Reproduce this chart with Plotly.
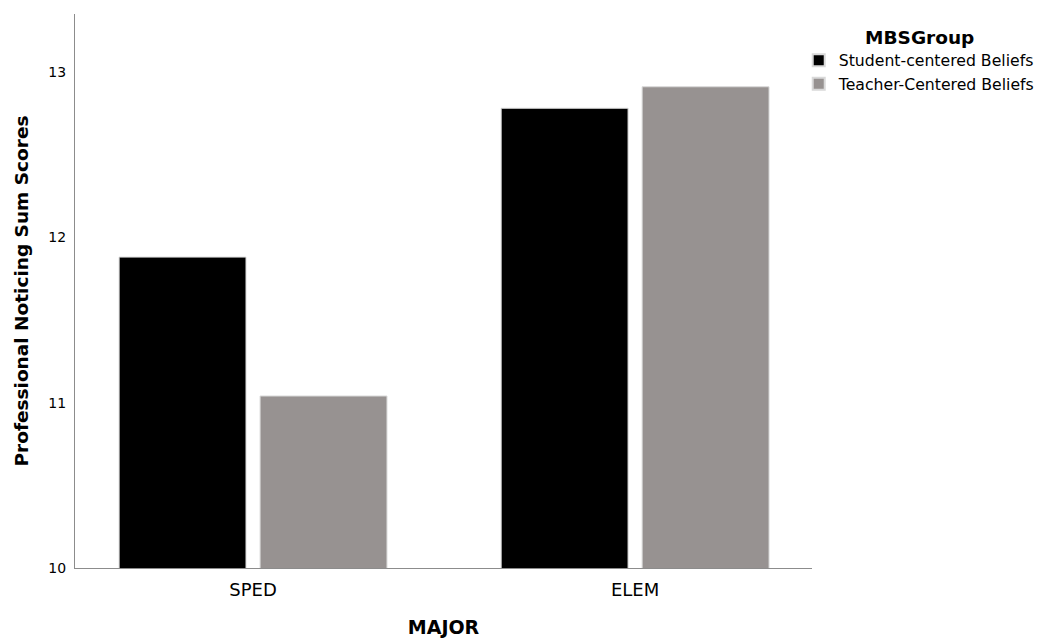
import plotly.graph_objects as go

categories = ["SPED", "ELEM"]
series_names = ["Student-centered Beliefs", "Teacher-Centered Beliefs"]
student_vals = [11.88, 12.78]
teacher_vals = [11.04, 12.91]
colors = ["#000000", "#979291"]
y_ticks = [10, 11, 12, 13]

FONT = "DejaVu Sans"

fig = go.Figure()
for name, vals, col in zip(series_names, [student_vals, teacher_vals], colors):
    fig.add_trace(go.Bar(
        x=categories, y=vals, name=name,
        marker=dict(color=col, line=dict(color="#d9d9d9", width=1)),
    ))

fig.update_layout(
    width=1044, height=641,
    margin=dict(l=67, r=240, t=6, b=81),
    paper_bgcolor="white", plot_bgcolor="white",
    barmode="group", bargap=0.262, bargroupgap=0.1,
    font=dict(family=FONT, color="#000000"),
    showlegend=True,
    legend=dict(
        x=0.982, xanchor="left", y=0.99, yanchor="top",
        title=dict(text="<b>MBSGroup</b>", side="top center", font=dict(size=18.5, family=FONT)),
        font=dict(size=15.7, family=FONT),
        itemsizing="constant", tracegroupgap=0,
        bgcolor="rgba(0,0,0,0)",
    ),
    xaxis=dict(
        range=[-0.466, 1.463],
        showline=True, linecolor="#8c8c8c", linewidth=1,
        ticks="", tickfont=dict(size=18, family=FONT), ticklabelstandoff=5,
        title=dict(text="<b>MAJOR</b>", font=dict(size=19, family=FONT), standoff=22),
        showgrid=False, zeroline=False,
    ),
    yaxis=dict(
        range=[10, 13.35],
        tickvals=y_ticks, ticktext=[str(v) for v in y_ticks],
        showline=True, linecolor="#8c8c8c", linewidth=1,
        ticks="", tickfont=dict(size=14, family=FONT), ticklabelstandoff=5,
        title=dict(text="<b>Professional Noticing Sum Scores</b>", font=dict(size=18.5, family=FONT), standoff=14),
        showgrid=False, zeroline=False,
    ),
)

fig.write_html("out.html")
